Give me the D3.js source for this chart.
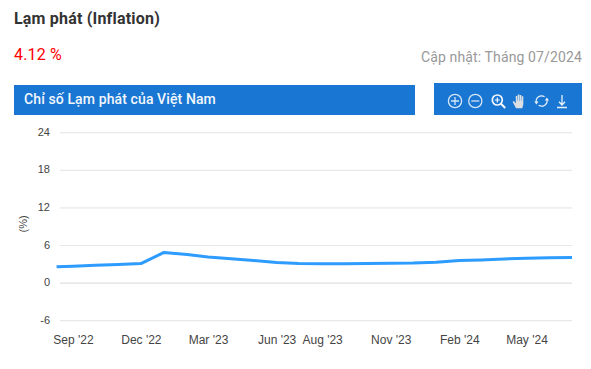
<!DOCTYPE html>
<html><head><meta charset="utf-8">
<script src="https://cdn.jsdelivr.net/npm/d3@7/dist/d3.min.js"></script>
<style>html,body{margin:0;padding:0;background:#fff}svg{display:block}</style></head>
<body><svg id="c" width="591" height="369"></svg>
<script>
const dates = ["2022-08-10","2022-09-01","2022-10-01","2022-11-01","2022-12-01","2023-01-01","2023-02-01","2023-03-01","2023-04-01","2023-05-01","2023-06-01","2023-07-01","2023-08-01","2023-09-01","2023-10-01","2023-11-01","2023-12-01","2024-01-01","2024-02-01","2024-03-01","2024-04-01","2024-05-01","2024-06-01","2024-07-01"];
const inflation = [2.6,2.7,2.84,2.98,3.12,4.89,4.55,4.15,3.88,3.6,3.27,3.12,3.07,3.09,3.12,3.17,3.2,3.32,3.6,3.7,3.85,3.98,4.05,4.1];
const yTicks = [-6,0,6,12,18,24];
const xTickDates = ["2022-09-01","2022-12-01","2023-03-01","2023-06-01","2023-08-01","2023-11-01","2024-02-01","2024-05-01"];
const xTickLabels = ["Sep '22","Dec '22","Mar '23","Jun '23","Aug '23","Nov '23","Feb '24","May '24"];

const svg = d3.select("#c");
const parse = d3.utcParse("%Y-%m-%d");
const x = d3.scaleUtc().domain([parse("2022-09-01"), parse("2024-07-01")]).range([73, 572]);
const y = d3.scaleLinear().domain([-6,24]).range([320.7,132.7]);
const roboto = "Roboto, sans-serif", arial = "'Liberation Sans', Arial, sans-serif";

function txt(s, px, py, size, fill, font, weight, anchor){
  return svg.append("text").attr("x",px).attr("y",py).attr("font-size",size).attr("fill",fill)
    .attr("font-family",font).attr("font-weight",weight||400).attr("text-anchor",anchor||"start").text(s);
}
txt("Lạm phát (Inflation)",14,24,16,"#333",roboto,700).attr("letter-spacing",0.2);
txt("4.12 %",14,60,16,"#ff0000",roboto).attr("letter-spacing",0.15);
txt("Cập nhật: Tháng 07/2024",582,62,14,"#999",roboto,400,"end").attr("letter-spacing",0.13);

svg.append("rect").attr("x",14).attr("y",85).attr("width",401).attr("height",30).attr("fill","#1976d2");
txt("Chỉ số Lạm phát của Việt Nam",24,104,14,"#f2f7fc",roboto,500).attr("letter-spacing",0.11);
svg.append("rect").attr("x",434).attr("y",83).attr("width",148).attr("height",32).attr("fill","#1976d2");

// toolbar icons
const ic = svg.append("g").attr("fill","none").attr("stroke","#d5e6f6").attr("stroke-width",1.3);
ic.append("circle").attr("cx",455).attr("cy",101).attr("r",6.6);
ic.append("path").attr("d","M451 101h8M455 97v8");
ic.append("circle").attr("cx",475.3).attr("cy",101).attr("r",6.6);
ic.append("path").attr("d","M471.3 101h8");
const mag = svg.append("g").attr("fill","none").attr("stroke","#f5f9fd");
mag.append("circle").attr("cx",497.3).attr("cy",100).attr("r",5).attr("stroke-width",1.7);
mag.append("path").attr("d","M494.8 100h5M497.3 97.5v5").attr("stroke-width",1.2);
mag.append("path").attr("d","M501 103.8l4.2 4.2").attr("stroke-width",2);
svg.append("path").attr("fill","#dcdfe3").attr("d","M516 108.3l-3.4-6.5 1.1-.9 2.1 2.3V96h1.5v4.8h.4v-6.4h1.6v6.4h.4v-5.8h1.6v5.8h.4v-4.6h1.6v8.1l-1 4.0z");
const rot = svg.append("g").attr("fill","none").attr("stroke","#e6f0fa").attr("stroke-width",1.2);
rot.append("path").attr("d","M536.3 102.5a5.5 5.5 0 0 1 8.3-5.8M547 99.5a5.5 5.5 0 0 1-8.3 5.8");
svg.append("path").attr("fill","#e6f0fa").attr("d","M534.3 101.5h4.2l-2.1 3zM549 100.5h-4.2l2.1-3z");
ic.append("path").attr("d","M562 95v9.5M559 101.7l3 3.3 3-3.3M557 107.5h10").attr("stroke","#e6f0fa");

// grid
svg.append("g").selectAll("line").data(yTicks).join("line")
  .attr("x1",60).attr("x2",572).attr("y1",d=>y(d)).attr("y2",d=>y(d))
  .attr("stroke",d=>d===0?"#e0e0e0":"#e8e8e8").attr("stroke-width",1.2);

// y axis via d3
const ya = svg.append("g").attr("transform","translate(50,-1)")
  .call(d3.axisLeft(y).tickValues(yTicks).tickFormat(d=>String(d)).tickSize(0).tickPadding(0));
ya.select(".domain").remove();
ya.selectAll("text").attr("font-family",arial).attr("font-size",11).attr("fill","#444");

svg.append("text").attr("transform","translate(27,232.5) rotate(-90)").attr("font-family",arial)
  .attr("font-size",11).attr("fill","#444").text("(%)");

// x axis via d3
const xa = svg.append("g").attr("transform","translate(0,332)")
  .call(d3.axisBottom(x).tickValues(xTickDates.map(parse)).tickFormat((d,i)=>xTickLabels[i]).tickSize(0).tickPadding(3));
xa.select(".domain").remove();
xa.selectAll("text").attr("font-family",arial).attr("font-size",12).attr("fill","#444");

const line = d3.line().x((d,i)=>x(parse(dates[i]))).y(d=>y(d));
svg.append("path").datum(inflation).attr("d",line).attr("fill","none").attr("stroke","#2e9bff")
  .attr("stroke-width",3).attr("stroke-linejoin","round");
</script></body></html>
